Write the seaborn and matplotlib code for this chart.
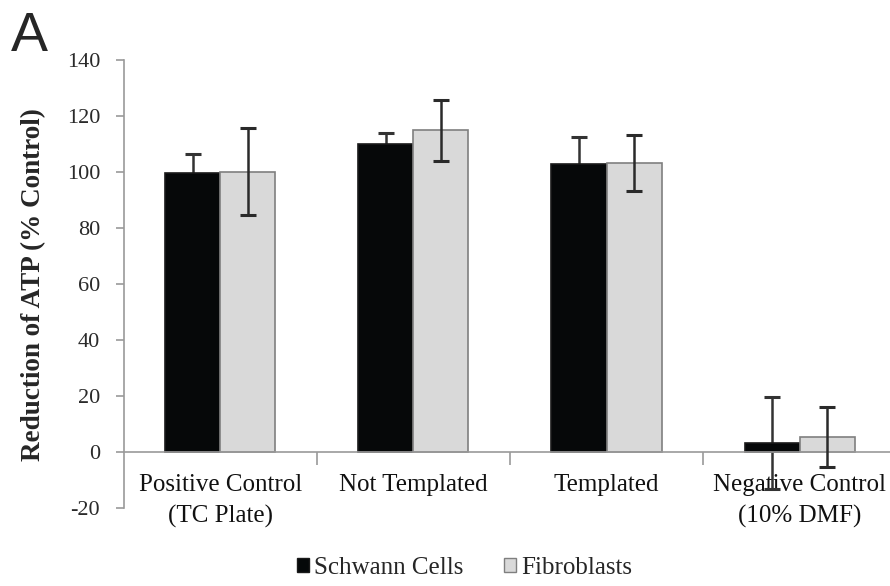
import pandas as pd
import numpy as np
import matplotlib
matplotlib.use("Agg")
import matplotlib.pyplot as plt
import seaborn as sns
from matplotlib.patches import Patch

# data
categories = ["Positive Control\n(TC Plate)", "Not Templated", "Templated", "Negative Control\n(10% DMF)"]
groups = ["Schwann Cells", "Fibroblasts"]
schwann = [99.8, 109.9, 103.0, 3.3]
schwann_err = [6.8, 4.0, 9.5, 16.5]
fibro = [100.2, 114.9, 103.4, 5.5]
fibro_err = [15.4, 11.0, 10.0, 10.7]
yticks = [-20, 0, 20, 40, 60, 80, 100, 120, 140]

df = pd.DataFrame({
    "category": categories * 2,
    "group": [groups[0]] * 4 + [groups[1]] * 4,
    "value": schwann + fibro,
})
errs = {groups[0]: schwann_err, groups[1]: fibro_err}

sns.set_theme(style="white")
serif = ["Liberation Serif", "DejaVu Serif"]
plt.rcParams["font.family"] = serif

colors = {groups[0]: "#050809", groups[1]: "#d9d9d9"}
edges = {groups[0]: "#1a1a1a", groups[1]: "#7f7f7f"}

fig = plt.figure(figsize=(8.9, 5.86), dpi=100)
ax = fig.add_axes([0.139, 0.133, 0.868, 0.7645])

sns.barplot(data=df, x="category", y="value", hue="group", order=categories,
            hue_order=groups, palette=colors, width=0.57, errorbar=None,
            linewidth=1.2, ax=ax, legend=False)

for cont, g in zip(ax.containers, groups):
    for bar in cont:
        bar.set_edgecolor(edges[g])
        bar.set_zorder(3)
    xs = [b.get_x() + b.get_width() / 2 for b in cont]
    ys = [b.get_height() for b in cont]
    # black bars hide the lower half of their error bars
    z = 2 if g == groups[0] else 5
    ecol = "#2a2a2a" if g == groups[1] else "#333333"
    ax.errorbar(xs, ys, yerr=errs[g], fmt="none", ecolor=ecol,
                elinewidth=1.8, capsize=6, capthick=2.2, zorder=z)

ax.set_ylim(-20, 140)
ax.set_xlim(-0.5, 3.5)
ax.set_yticks(yticks)
ax.set_yticklabels([str(t) for t in yticks], fontsize=16, family=serif)

for s in ["top", "right"]:
    ax.spines[s].set_visible(False)
ax.spines["bottom"].set_position(("data", 0))
ax.spines["bottom"].set_color("#9a9a9a")
ax.spines["left"].set_color("#9a9a9a")
ax.spines["bottom"].set_linewidth(1.2)
ax.spines["left"].set_linewidth(1.2)
ax.spines["bottom"].set_zorder(4)

ax.tick_params(axis="y", which="major", direction="out", length=6, width=1.2,
               color="#9a9a9a", left=True, pad=11, labelcolor="#2a2a2a")
ax.set_xticks(range(len(categories)))
ax.set_xticklabels(categories, fontsize=18, linespacing=1.5, family=serif)
ax.set_xticks([0.5, 1.5, 2.5], minor=True)
ax.tick_params(axis="x", which="major", length=0, pad=16, labelcolor="#111111")
ax.tick_params(axis="x", which="minor", direction="out", length=9, width=1.2,
               color="#9a9a9a", bottom=True)

ax.set_xlabel("")
ax.set_ylabel("Reduction of ATP (% Control)", fontsize=19.5, fontweight="bold")
ax.yaxis.set_label_coords(-0.1, 0.5)

handles = [Patch(facecolor=colors[g], edgecolor=edges[g], label=g) for g in groups]
fig.legend(handles=handles, loc="center", bbox_to_anchor=(0.522, 0.031), ncol=2,
           frameon=False, handlelength=0.5, handleheight=0.5,
           handletextpad=0.2, columnspacing=1.6, prop={"family": serif, "size": 18})

fig.text(0.012, 0.982, "A", fontsize=40, va="top", ha="left", family="Liberation Sans")

fig.savefig("out.png", dpi=100, facecolor="white")
